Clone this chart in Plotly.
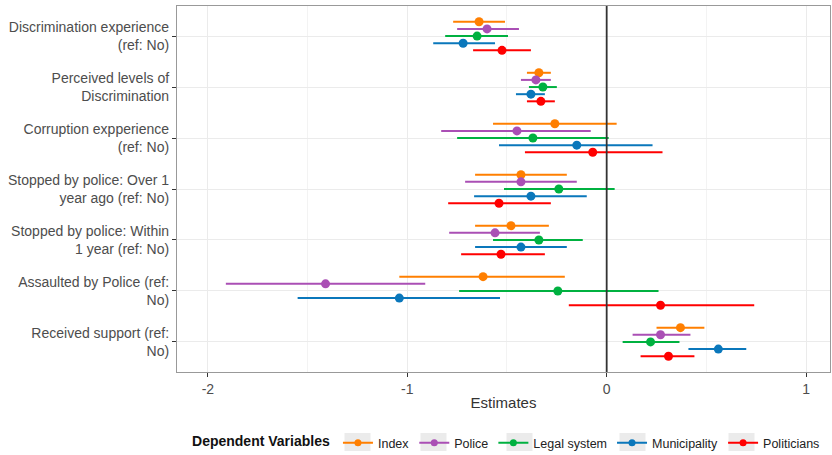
import plotly.graph_objects as go

categories = [
    "Discrimination experience<br>(ref: No)",
    "Perceived levels of<br>Discrimination",
    "Corruption expperience<br>(ref: No)",
    "Stopped by police: Over 1<br>year ago (ref: No)",
    "Stopped by police: Within<br>1 year (ref: No)",
    "Assaulted by Police (ref:<br>No)",
    "Received support (ref:<br>No)",
]
series = ["Index", "Police", "Legal system", "Municipality", "Politicians"]
colors = ["#FF7F00", "#AA4FB5", "#00B140", "#0A77BB", "#FF0000"]

est = {
    "Index":        [-0.64, -0.34, -0.26, -0.43, -0.48, -0.62, 0.37],
    "Police":       [-0.60, -0.355, -0.45, -0.43, -0.56, -1.41, 0.27],
    "Legal system": [-0.65, -0.32, -0.37, -0.24, -0.34, -0.245, 0.22],
    "Municipality": [-0.72, -0.38, -0.15, -0.38, -0.43, -1.04, 0.56],
    "Politicians":  [-0.525, -0.33, -0.07, -0.54, -0.53, 0.27, 0.31],
}
low = {
    "Index":        [-0.77, -0.40, -0.57, -0.66, -0.66, -1.04, 0.25],
    "Police":       [-0.75, -0.43, -0.83, -0.71, -0.79, -1.91, 0.13],
    "Legal system": [-0.81, -0.39, -0.75, -0.515, -0.57, -0.74, 0.08],
    "Municipality": [-0.87, -0.455, -0.54, -0.665, -0.66, -1.55, 0.41],
    "Politicians":  [-0.67, -0.40, -0.41, -0.795, -0.73, -0.19, 0.17],
}
high = {
    "Index":        [-0.51, -0.28, 0.05, -0.20, -0.29, -0.21, 0.49],
    "Police":       [-0.44, -0.28, -0.08, -0.15, -0.335, -0.91, 0.42],
    "Legal system": [-0.495, -0.25, 0.01, 0.04, -0.12, 0.26, 0.365],
    "Municipality": [-0.56, -0.31, 0.23, -0.10, -0.20, -0.535, 0.70],
    "Politicians":  [-0.38, -0.26, 0.28, -0.28, -0.31, 0.74, 0.44],
}
x_ticks = [-2, -1, 0, 1]

dodge = [-0.28, -0.14, 0.0, 0.14, 0.28]
FONT = "Liberation Sans, Arial, sans-serif"

fig = go.Figure()
for i, s in enumerate(series):
    ys = [k + 1 + dodge[i] for k in range(len(categories))]
    lx, ly = [], []
    for k in range(len(categories)):
        lx += [low[s][k], high[s][k], None]
        ly += [ys[k], ys[k], None]
    fig.add_trace(go.Scatter(x=lx, y=ly, mode="lines", line=dict(color=colors[i], width=2),
                             showlegend=False, legendgroup=s, hoverinfo="skip"))
    fig.add_trace(go.Scatter(x=est[s], y=ys, mode="markers",
                             marker=dict(color=colors[i], size=9),
                             showlegend=False, legendgroup=s, name=s))
    fig.add_trace(go.Scatter(x=[None], y=[None], mode="lines+markers", name=s,
                             line=dict(color=colors[i], width=2),
                             marker=dict(color=colors[i], size=7), legendgroup=s))

fig.add_vline(x=0, line=dict(color="#333333", width=1.8))

# grey legend-key backgrounds (ggplot style), placed under the plotly legend symbols
W, H = 832, 455
ML, MR, MT, MB = 177, 2, 6, 83
pw, ph = W - ML - MR, H - MT - MB
key_px = [357.5, 433.5, 519.5, 632.5, 741.5]
key_py = 442
for cx in key_px:
    fig.add_shape(type="rect", xref="paper", yref="paper",
                  x0=(cx - 13 - ML) / pw, x1=(cx + 13 - ML) / pw,
                  y0=(H - MB - key_py - 9) / ph, y1=(H - MB - key_py + 9) / ph,
                  fillcolor="#EBEBEB", line=dict(width=0), layer="above")

minor = [-1.5, -0.5, 0.5]
fig.update_layout(
    width=W, height=H,
    margin=dict(l=ML, r=MR, t=MT, b=MB),
    paper_bgcolor="white", plot_bgcolor="white",
    font=dict(family=FONT, size=14, color="#4D4D4D"),
    xaxis=dict(range=[-2.155, 1.12], tickvals=x_ticks, ticktext=[str(v) for v in x_ticks],
               automargin=False,
               showgrid=True, gridcolor="#EBEBEB", gridwidth=1.2,
               minor=dict(tickvals=minor, showgrid=True, gridcolor="#F3F3F3", gridwidth=0.8, ticks=""),
               zeroline=False, ticks="outside", ticklen=4, tickcolor="#333333",
               showline=True, linecolor="#999999", linewidth=1.2, mirror=True,
               tickfont=dict(size=14, color="#4D4D4D"),
               title=dict(text="Estimates", font=dict(size=15, color="#333333"), standoff=1)),
    yaxis=dict(range=[7.59, 0.41], tickvals=list(range(1, len(categories) + 1)), ticktext=categories,
               automargin=False,
               showgrid=True, gridcolor="#EBEBEB", gridwidth=1.2, zeroline=False,
               ticks="outside", ticklen=4, tickcolor="#333333",
               showline=True, linecolor="#999999", linewidth=1.2, mirror=True,
               tickfont=dict(size=14, color="#4D4D4D")),
    legend=dict(orientation="h", x=0.61, xanchor="center", xref="container",
                y=0.026, yanchor="middle", yref="container",
                font=dict(size=12.5, color="#222222"),
                title=dict(text="<b>Dependent Variables</b>", font=dict(size=14, color="#111111"), side="left"),
                itemwidth=30, tracegroupgap=0, bgcolor="rgba(0,0,0,0)"),
)

fig.write_html("out.html", post_script="document.body.style.margin='0';",
               config={"displayModeBar": False})
